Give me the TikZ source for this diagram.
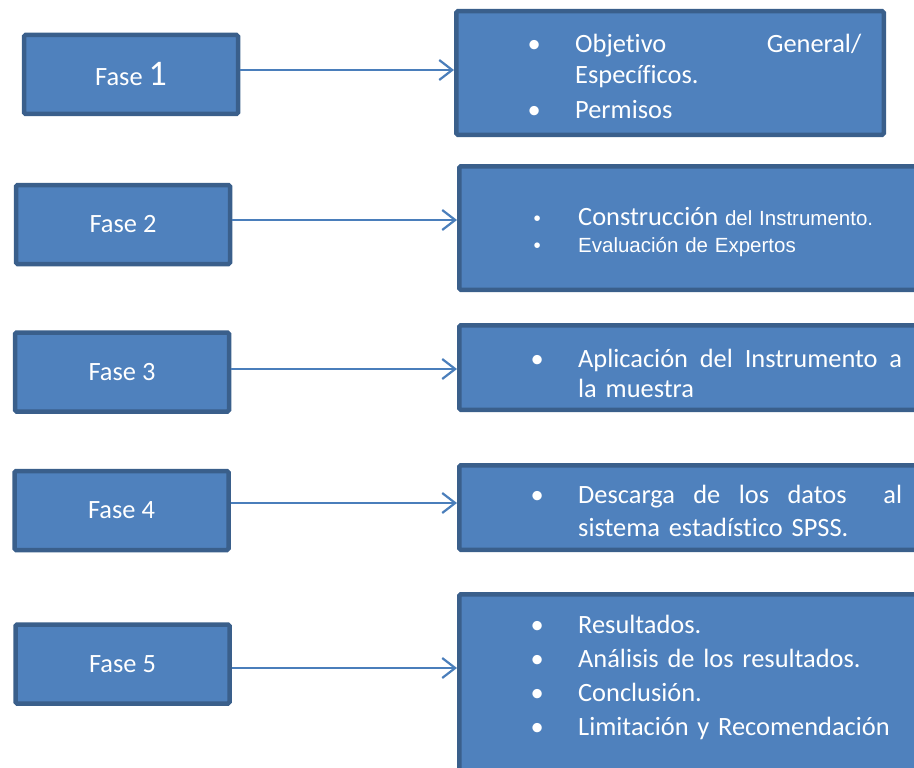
\documentclass[tikz,border=0pt]{standalone}
\usepackage{fontspec}
\setmainfont{Carlito}[Ligatures={NoCommon}]
\newfontfamily\arialf{Liberation Sans}
\usetikzlibrary{arrows.meta, positioning}
\usepackage{xcolor}
\definecolor{faseblue}{HTML}{4F81BD}
\definecolor{faseborde}{HTML}{3A5F8B}
\definecolor{flechablue}{HTML}{4A7EBB}
\newcommand{\vineta}{\leavevmode\llap{\makebox[0pt]{\textbullet}\hspace{41pt}}}
\newcommand{\tope}{\rule{0pt}{30pt}}

\begin{document}
\begin{tikzpicture}[
    x=1pt, y=-1pt,
    fase/.style={
        rectangle,
        rounded corners=1.5pt,
        minimum width=214pt,
        minimum height=79pt,
        draw=faseborde,
        line width=4.5pt,
        fill=faseblue,
        text=white,
        font=\fontsize{26.4}{32}\selectfont
    },
    detalle/.style={
        rectangle,
        rounded corners=1.5pt,
        anchor=west,
        draw=faseborde,
        line width=4.5pt,
        fill=faseblue
    },
    texto/.style={
        anchor=north west,
        inner sep=0pt,
        text=white,
        align=left,
        text width=#1
    },
    flecha/.style={
        -{Straight Barb[length=13pt, width=20pt]},
        line width=2.2pt,
        draw=flechablue
    }
]
\useasboundingbox (0,0) rectangle (914,768);
\clip (0,0) rectangle (914,768);

% Fases
\node[fase] (f1) at (131, 74.5) {Fase {\fontsize{36}{36}\selectfont 1}};
\node[fase] (f2) at (123, 224.5) {Fase 2};
\node[fase] (f3) at (122, 372) {Fase 3};
\node[fase] (f4) at (121.5, 510.5) {Fase 4};
\node[fase] (f5) at (122.5, 664) {Fase 5};

% Detalle de cada fase
\node[detalle, minimum width=427.5pt, minimum height=123.5pt] (d1) at (454, 73) {};
\node[detalle, minimum width=480pt, minimum height=123.5pt] (d2) at (457, 228) {};
\node[detalle, minimum width=480pt, minimum height=84.5pt] (d3) at (457, 367.5) {};
\node[detalle, minimum width=480pt, minimum height=84.5pt] (d4) at (457, 507.5) {};
\node[detalle, minimum width=480pt, minimum height=203.5pt] (d5) at (457, 696) {};

% Textos
\node[texto=286pt, font=\fontsize{26.4}{31}\selectfont] (t1) at (575, 22)
    {\tope\vineta Objetivo\hfill General/\\ Específicos.\\[4.6pt] \vineta Permisos};
\node[texto=330pt, font=\arialf\fontsize{20.5}{27}\selectfont] (t2) at (578, 195)
    {\tope\vineta{\rmfamily\fontsize{26.4}{27}\selectfont Construcción} del Instrumento.\\ \vineta Evaluación de Expertos};
\node[texto=324pt, font=\fontsize{26.4}{30.5}\selectfont] (t3) at (578, 337)
    {\tope\vineta Aplicación\hfill del\hfill Instrumento\hfill a\\ la muestra};
\node[texto=324pt, font=\fontsize{26.4}{32.7}\selectfont] (t4) at (578, 473.3)
    {\tope\vineta Descarga\hfill de\hfill los\hfill datos\hfill\hfill al\\ sistema estadístico SPSS.};
\node[texto=330pt, font=\fontsize{26.4}{34}\selectfont] (t5) at (578, 603)
    {\tope\vineta Resultados.\\ \vineta Análisis de los resultados.\\ \vineta Conclusión.\\ \vineta Limitación y Recomendación};

% Flechas
\coordinate (a1) at ([yshift=4.5pt]f1.east);
\coordinate (a2) at ([yshift=4.5pt]f2.east);
\coordinate (a3) at ([yshift=3pt]f3.east);
\coordinate (a4) at ([yshift=7.5pt]f4.east);
\coordinate (a5) at ([yshift=-4pt]f5.east);
\draw[flecha] (a1) -- (a1 -| d1.west);
\draw[flecha] (a2) -- (a2 -| d2.west);
\draw[flecha] (a3) -- (a3 -| d3.west);
\draw[flecha] (a4) -- (a4 -| d4.west);
\draw[flecha] (a5) -- (a5 -| d5.west);

\end{tikzpicture}
\end{document}
